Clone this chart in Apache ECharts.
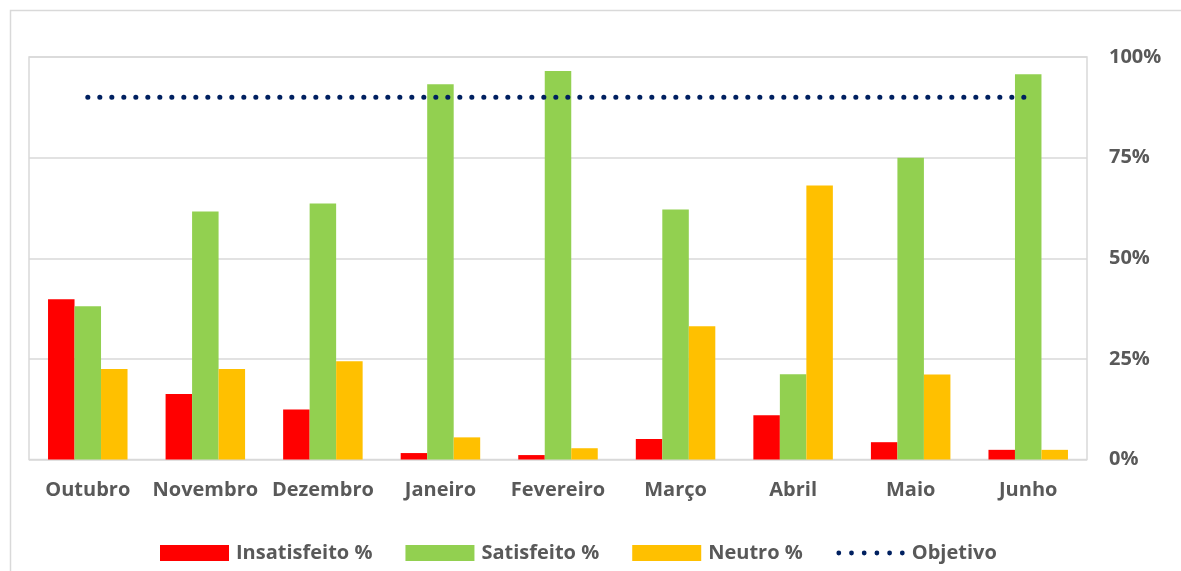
<!DOCTYPE html>
<html>
<head>
<meta charset="utf-8">
<script src="https://cdn.jsdelivr.net/npm/echarts@6/dist/echarts.min.js"></script>
<style>
html,body{margin:0;padding:0;background:#fff;}
#chart{width:1181px;height:571px;}
</style>
</head>
<body>
<div id="chart"></div>
<script>
//meses
var meses = ['Outubro', 'Novembro', 'Dezembro', 'Janeiro', 'Fevereiro', 'Março', 'Abril', 'Maio', 'Junho'];
//valores em %
var insatisfeito = [39.8, 16.3, 12.4, 1.6, 1.1, 5.1, 11.0, 4.3, 2.4];
var satisfeito = [38.1, 61.6, 63.6, 93.2, 96.5, 62.1, 21.2, 75.0, 95.7];
var neutro = [22.5, 22.5, 24.4, 5.5, 2.8, 33.1, 68.1, 21.1, 2.4];
var objetivo = [90, 90, 90, 90, 90, 90, 90, 90, 90];
var ticks = [0, 25, 50, 75, 100];

var cinza = '#595959';
var fonte = '"Open Sans", "Liberation Sans", sans-serif';

//icone pontilhado da legenda (6 pontos numa caixa 69x16)
function iconePontos() {
    var p = 'path://M0 0 L0.01 0 L0.01 0.01 Z M69 16 L68.99 16 L68.99 15.99 Z';
    var r = 2.4;
    for (var i = 0; i < 6; i++) {
        var cx = 3 + i * 12.7;
        p += ' M' + (cx - r) + ' 8 A' + r + ' ' + r + ' 0 1 0 ' + (cx + r) + ' 8 A' + r + ' ' + r + ' 0 1 0 ' + (cx - r) + ' 8 Z';
    }
    return p;
}

var chart = echarts.init(document.getElementById('chart'));

var option = {
    backgroundColor: '#fff',
    animation: false,
    textStyle: { fontFamily: fonte },
    graphic: [{
        type: 'rect',
        left: 8, top: 8,
        shape: { width: 1300, height: 700 },
        style: { fill: 'none', stroke: '#d9d9d9', lineWidth: 1.5 },
        silent: true
    }],
    grid: {
        left: 29, right: 94, top: 57, bottom: 111.5,
        show: true,
        borderColor: '#d9d9d9',
        borderWidth: 1.5
    },
    legend: {
        left: 155,
        top: 538,
        itemWidth: 69,
        itemHeight: 16,
        itemGap: 33,
        textStyle: { color: cinza, fontSize: 20, fontWeight: 'bold', fontFamily: fonte, padding: [0, 0, 0, 2] },
        data: [
            { name: 'Insatisfeito %', icon: 'rect' },
            { name: 'Satisfeito %', icon: 'rect' },
            { name: 'Neutro %', icon: 'rect' },
            { name: 'Objetivo', icon: iconePontos() }
        ]
    },
    xAxis: {
        type: 'category',
        data: meses,
        axisLine: { show: false },
        axisTick: { show: false },
        axisLabel: { interval: 0, color: cinza, fontSize: 20, fontWeight: 'bold', margin: 21, fontFamily: fonte }
    },
    yAxis: {
        type: 'value',
        position: 'right',
        min: ticks[0],
        max: ticks[ticks.length - 1],
        interval: 25,
        axisLine: { show: false },
        axisTick: { show: false },
        axisLabel: {
            color: cinza, fontSize: 20, fontWeight: 'bold', margin: 22, fontFamily: fonte,
            formatter: '{value}%'
        },
        splitLine: { lineStyle: { color: '#d9d9d9', width: 1.5 } }
    },
    series: [
        {
            name: 'Insatisfeito %',
            type: 'bar',
            data: insatisfeito,
            barWidth: 26.5,
            barGap: '0%',
            itemStyle: { color: '#ff0000' }
        },
        {
            name: 'Satisfeito %',
            type: 'bar',
            data: satisfeito,
            barWidth: 26.5,
            barGap: '0%',
            itemStyle: { color: '#92d050' }
        },
        {
            name: 'Neutro %',
            type: 'bar',
            data: neutro,
            barWidth: 26.5,
            barGap: '0%',
            itemStyle: { color: '#ffc000' }
        },
        {
            name: 'Objetivo',
            type: 'line',
            data: objetivo,
            symbol: 'none',
            z: 5,
            lineStyle: { color: '#002060', width: 5, type: [0.1, 11.9], cap: 'round' },
            itemStyle: { color: '#002060' }
        }
    ]
};

chart.setOption(option);
</script>
</body>
</html>
